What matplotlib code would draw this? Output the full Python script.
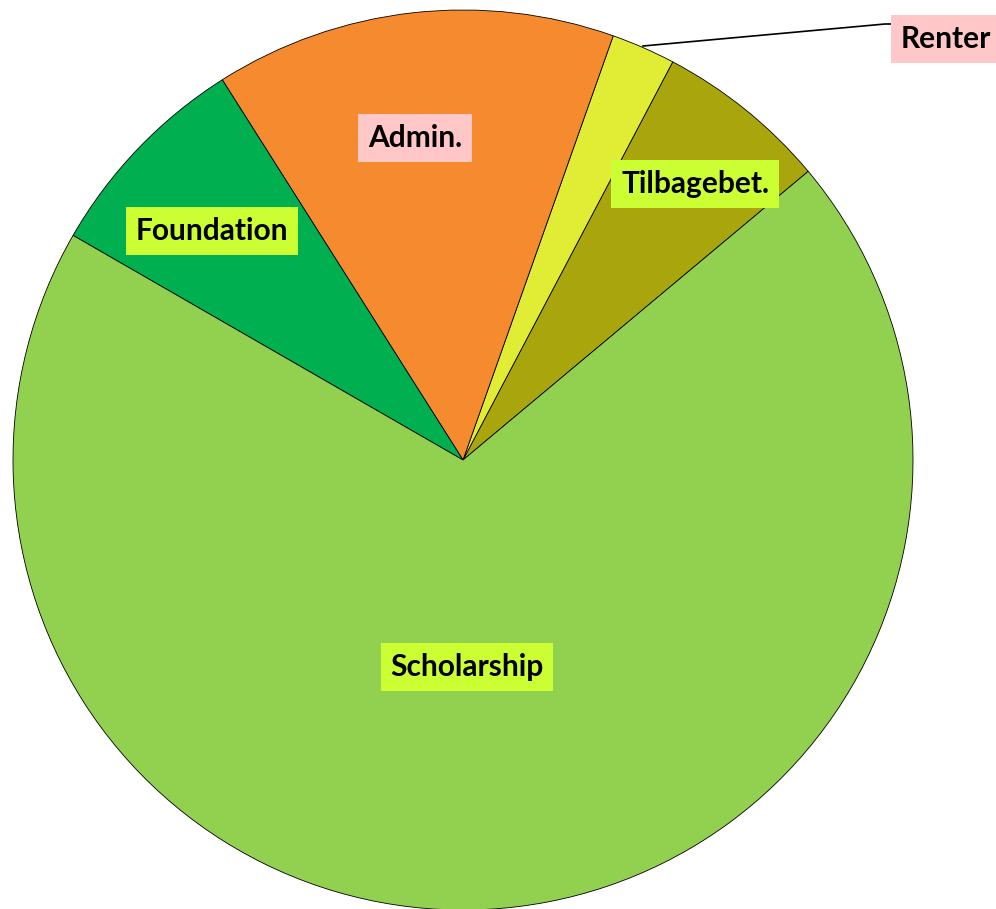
import matplotlib
matplotlib.use("Agg")
import matplotlib.pyplot as plt

# data (share of total)
labels = ['Tilbagebet.', 'Renter', 'Admin.', 'Foundation', 'Scholarship']
values = [6.2, 2.3, 14.4, 7.7, 69.4]
colors = ['#A9A50C', '#E1EC35', '#F58A2E', '#00B050', '#92D050']
box_colors = ['#CCFF33', '#FFC7C7', '#FFC7C7', '#CCFF33', '#CCFF33']

W, H = 996, 909
cx, cy, R = 463, 460, 450

fig = plt.figure(figsize=(W / 100, H / 100), dpi=100)
ax = fig.add_axes([0, 0, 1, 1])

wedges, _ = ax.pie(values, colors=colors, startangle=39.9, counterclock=True,
                   radius=1.0, wedgeprops=dict(edgecolor='black', linewidth=0.6))

ax.set_xlim(-cx / R, (W - cx) / R)
ax.set_ylim(-(H - cy) / R, cy / R)
ax.set_aspect('equal')
ax.axis('off')


def px(x, y):
    return (x - cx) / R, (cy - y) / R


# label positions in pixels of the original
label_pos = {
    'Tilbagebet.': (695, 184),
    'Renter': (946, 39),
    'Admin.': (415, 138),
    'Foundation': (212, 231),
    'Scholarship': (467, 667),
}

for lab, bc in zip(labels, box_colors):
    x, y = px(*label_pos[lab])
    ax.text(x, y, lab, ha='center', va='center', fontsize=21.5, fontweight='bold',
            family='Lato', color='black',
            bbox=dict(boxstyle='square,pad=0.33', facecolor=bc, edgecolor='none'))

# leader line for Renter
pts = [px(643, 46), px(885, 24), px(895, 24)]
ax.plot([p[0] for p in pts], [p[1] for p in pts], color='black', linewidth=1.2)

fig.savefig('out.png', dpi=100)
